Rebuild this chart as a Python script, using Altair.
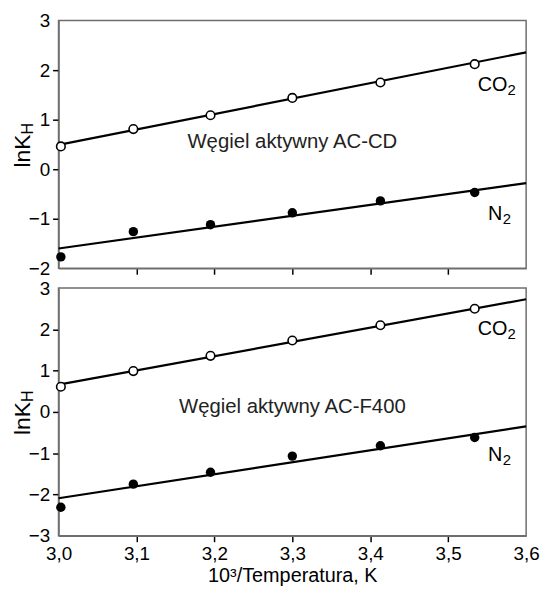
import altair as alt
import pandas as pd

# ---- data ----
x_pts = [3.003, 3.096, 3.195, 3.300, 3.413, 3.534]          # 10^3/T
acd_co2 = [0.46, 0.81, 1.09, 1.44, 1.75, 2.12]
acd_n2 = [-1.77, -1.26, -1.12, -0.88, -0.64, -0.47]
af_co2 = [0.61, 0.99, 1.36, 1.73, 2.10, 2.50]
af_n2 = [-2.31, -1.75, -1.46, -1.07, -0.82, -0.62]

line_x = [3.0, 3.6]
acd_co2_fit = [0.49, 2.36]
acd_n2_fit = [-1.60, -0.28]
af_co2_fit = [0.66, 2.73]
af_n2_fit = [-2.09, -0.35]

x_ticks = [3.0, 3.1, 3.2, 3.3, 3.4, 3.5, 3.6]
top_y_ticks = [-2, -1, 0, 1, 2, 3]
bot_y_ticks = [-3, -2, -1, 0, 1, 2, 3]

top_name = "Węgiel aktywny AC-CD"
bot_name = "Węgiel aktywny AC-F400"
x_title = "10³/Temperatura, K"
y_title_main = "lnK"
y_title_sub = "H"
gas_main = ["CO", "N"]
gas_sub = "2"

# annotation anchors (data coordinates)
top_name_pos = (3.30, 0.43)
bot_name_pos = (3.30, -0.03)
top_gas_pos = [(3.538, 1.58), (3.551, -1.02)]
bot_gas_pos = [(3.538, 1.87), (3.551, -1.20)]

FONT = "Liberation Sans"
W, H = 472, 250
FS = 19


def panel(co2, n2, co2_fit, n2_fit, ydom, yticks, name, name_pos, gas_pos, bottom):
    pts = pd.DataFrame({"x": x_pts * 2, "y": co2 + n2,
                        "gas": ["CO2"] * len(x_pts) + ["N2"] * len(x_pts)})
    fits = pd.DataFrame({"x": line_x * 2, "y": co2_fit + n2_fit,
                         "gas": ["CO2"] * 2 + ["N2"] * 2})
    xax = dict(values=x_ticks, labelFlush=False, labels=bottom,
               tickOpacity={"condition": {"test": "datum.value < 3.05 || datum.value > 3.55", "value": 0}, "value": 1})
    if bottom:
        xax["title"] = x_title
        xax["labelExpr"] = "replace(format(datum.value, '.1f'), '.', ',')"
    else:
        xax["title"] = None
    lo, hi = ydom
    yax = alt.Axis(values=yticks, title=None, labelFlush=False,
                   tickOpacity={"condition": {"test": f"datum.value <= {lo} || datum.value >= {hi}", "value": 0}, "value": 1})
    X = alt.X("x:Q", scale=alt.Scale(domain=[3.0, 3.6], nice=False, zero=False), axis=alt.Axis(**xax))
    Y = alt.Y("y:Q", scale=alt.Scale(domain=list(ydom), nice=False, zero=False), axis=yax)

    lines = alt.Chart(fits).mark_line(color="black", strokeWidth=2.2).encode(x=X, y=Y, detail="gas:N")
    open_pts = alt.Chart(pts[pts.gas == "CO2"]).mark_point(
        shape="circle", filled=True, fill="white", stroke="black", strokeWidth=1.6, size=75, opacity=1
    ).encode(x=X, y=Y)
    full_pts = alt.Chart(pts[pts.gas == "N2"]).mark_circle(color="black", size=90, opacity=1).encode(x=X, y=Y)

    name_df = pd.DataFrame({"x": [name_pos[0]], "y": [name_pos[1]], "t": [name]})
    name_txt = alt.Chart(name_df).mark_text(font=FONT, fontSize=20.5, color="#222", align="center",
                                            baseline="alphabetic").encode(x=X, y=Y, text="t:N")
    gas_df = pd.DataFrame({"x": [p[0] for p in gas_pos], "y": [p[1] for p in gas_pos],
                           "t": gas_main, "s": [gas_sub] * 2})
    gas_txt = alt.Chart(gas_df).mark_text(font=FONT, fontSize=20, color="black", align="left",
                                          baseline="alphabetic").encode(x=X, y=Y, text="t:N")
    sub_co = alt.Chart(gas_df.iloc[[0]]).mark_text(font=FONT, fontSize=15, color="black", align="left",
                                                   baseline="alphabetic", dx=30, dy=4).encode(x=X, y=Y, text="s:N")
    sub_n = alt.Chart(gas_df.iloc[[1]]).mark_text(font=FONT, fontSize=15, color="black", align="left",
                                                  baseline="alphabetic", dx=15, dy=4).encode(x=X, y=Y, text="s:N")

    mid = H / 2
    yt_df = pd.DataFrame({"a": [y_title_main], "b": [y_title_sub]})
    yt_main = alt.Chart(yt_df).mark_text(font=FONT, fontSize=23, color="black", align="right",
                                         baseline="alphabetic", angle=270).encode(
        x=alt.value(-29), y=alt.value(mid - 10), text="a:N")
    yt_sub = alt.Chart(yt_df).mark_text(font=FONT, fontSize=16, color="black", align="left",
                                        baseline="alphabetic", angle=270).encode(
        x=alt.value(-26), y=alt.value(mid - 10), text="b:N")

    return alt.layer(lines, open_pts, full_pts, name_txt, gas_txt, sub_co, sub_n, yt_main, yt_sub).properties(
        width=W, height=H)


top = panel(acd_co2, acd_n2, acd_co2_fit, acd_n2_fit, (-2, 3), top_y_ticks, top_name, top_name_pos,
            top_gas_pos, False)
bot = panel(af_co2, af_n2, af_co2_fit, af_n2_fit, (-3, 3), bot_y_ticks, bot_name, bot_name_pos,
            bot_gas_pos, True)

chart = alt.vconcat(top, bot, spacing=20, bounds="flush").properties(
    padding={"left": 3, "top": 0, "right": 0, "bottom": 0}
).configure_axis(
    labelFont=FONT, labelFontSize=FS, labelColor="black", labelPadding=3,
    titleFont=FONT, titleFontSize=20, titleFontWeight="normal", titleColor="black", titlePadding=2,
    domainColor="#6e6e6e", domainWidth=1.5, tickColor="black", tickWidth=1.5, tickSize=6, grid=False
).configure_view(stroke="#6e6e6e", strokeWidth=1.5)

chart.save("out.html", embed_options={"renderer": "svg", "actions": False})
